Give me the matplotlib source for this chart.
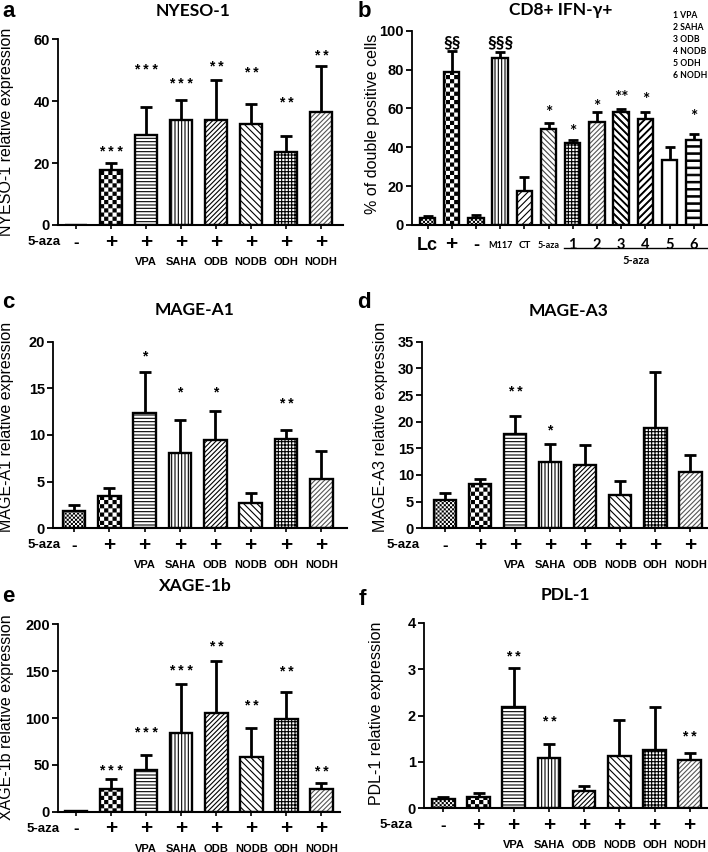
import warnings
warnings.filterwarnings("ignore")
import numpy as np
import matplotlib
matplotlib.use("Agg")
import matplotlib.pyplot as plt
from matplotlib import hatch as mhatch
from matplotlib.path import Path

# ---------------- data ----------------
treat_signs = ['-', '+', '+', '+', '+', '+', '+', '+']
hdac_names = ['', '', 'VPA', 'SAHA', 'ODB', 'NODB', 'ODH', 'NODH']

nyeso_mean = [0, 17.8, 29.2, 33.8, 33.8, 32.7, 23.5, 36.6]
nyeso_err = [0, 2.1, 8.8, 6.5, 13.1, 6.3, 5.1, 14.8]
nyeso_stars = ['', '***', '***', '***', '**', '**', '**', '**']
nyeso_star_y = [0, 25.0, 51.5, 46.9, 52.2, 50.3, 40.6, 55.8]

magea1_mean = [1.9, 3.46, 12.4, 8.1, 9.46, 2.75, 9.57, 5.3]
magea1_err = [0.6, 0.84, 4.3, 3.5, 3.1, 1.0, 0.93, 3.0]
magea1_stars = ['', '', '*', '*', '*', '', '**', '']
magea1_star_y = [0, 0, 18.9, 15.0, 15.0, 0, 13.75, 0]

magea3_mean = [5.3, 8.25, 17.7, 12.4, 11.9, 6.25, 18.9, 10.6]
magea3_err = [1.26, 0.95, 3.3, 3.35, 3.8, 2.65, 10.5, 3.15]
magea3_stars = ['', '', '**', '*', '', '', '', '']
magea3_star_y = [0, 0, 26.4, 19.1, 0, 0, 0, 0]

xage_mean = [1.0, 24.2, 44.5, 84.3, 105.0, 58.0, 99.0, 24.2]
xage_err = [0, 10.3, 16.0, 52.0, 55.8, 31.3, 28.8, 6.0]
xage_stars = ['', '***', '***', '***', '**', '**', '**', '**']
xage_star_y = [0, 48.0, 87.9, 154.0, 179.7, 116.7, 153.0, 46.3]

pdl1_mean = [0.19, 0.25, 2.19, 1.09, 0.38, 1.13, 1.26, 1.04]
pdl1_err = [0.06, 0.07, 0.84, 0.30, 0.10, 0.77, 0.93, 0.16]
pdl1_stars = ['', '', '**', '**', '', '', '', '**']
pdl1_star_y = [0, 0, 3.35, 1.95, 0, 0, 0, 1.62]

cd8_labels = ['Lc', '+', '-', 'M117', 'CT', '5-aza', '1', '2', '3', '4', '5', '6']
cd8_mean = [3.4, 78.9, 3.4, 85.8, 17.5, 49.4, 42.0, 53.2, 58.3, 54.4, 33.5, 43.7]
cd8_err = [1.2, 10.8, 1.7, 3.1, 7.4, 2.9, 1.6, 4.8, 1.4, 3.6, 6.6, 3.0]
cd8_stars = ['', '§§', '', '§§§', '', '*', '*', '*', '**', '*', '', '*']
cd8_star_y = [0, 94.8, 0, 94.8, 0, 60.0, 50.6, 63.5, 67.8, 66.9, 0, 58.3]
cd8_legend = ['1 VPA', '2 SAHA', '3 ODB', '4 NODB', '5 ODH', '6 NODH']

# ---------------- custom hatches ----------------
HATCH_LW = 0.8
plt.rcParams['hatch.linewidth'] = HATCH_LW


def _rect_poly(vertices, codes, k, pts):
    vertices[k:k + 5] = pts + [pts[0]]
    codes[k] = Path.MOVETO
    codes[k + 1:k + 4] = Path.LINETO
    codes[k + 4] = Path.CLOSEPOLY


class CheckerHatch(mhatch.HatchPatternBase):
    filled = True

    def __init__(self, hatch, density):
        n = int(hatch.count('c') * density)
        n -= n % 2
        self.n = n
        self.num_vertices = (n * n // 2) * 5

    def set_vertices_and_codes(self, vertices, codes):
        n = self.n
        s = 1.0 / n
        ins = min(HATCH_LW / 144.0, s * 0.3)
        k = 0
        for i in range(n):
            for j in range(n):
                if (i + j) % 2 == 0:
                    x0, y0 = i * s + ins, j * s + ins
                    x1, y1 = (i + 1) * s - ins, (j + 1) * s - ins
                    _rect_poly(vertices, codes, k, [(x0, y0), (x1, y0), (x1, y1), (x0, y1)])
                    k += 5


class ThickHorizontal(mhatch.HatchPatternBase):
    filled = True

    def __init__(self, hatch, density):
        self.n = hatch.count('h') * 7
        self.num_vertices = self.n * 5

    def set_vertices_and_codes(self, vertices, codes):
        n = self.n
        t = 0.007
        for i in range(n):
            y = (i + 0.5) / n
            _rect_poly(vertices, codes, i * 5,
                       [(-0.1, y - t), (1.1, y - t), (1.1, y + t), (-0.1, y + t)])


class ThickDiagonal(mhatch.HatchPatternBase):
    filled = True

    def __init__(self, hatch, density):
        self.n_up = hatch.count('d') * 7
        self.n_dn = hatch.count('b') * 7
        self.num_vertices = ((2 * self.n_up + 3 if self.n_up else 0) +
                             (2 * self.n_dn + 3 if self.n_dn else 0)) * 5

    def set_vertices_and_codes(self, vertices, codes):
        t = 0.0055
        k = 0
        for n, sign in ((self.n_up, 1), (self.n_dn, -1)):
            if not n:
                continue
            for j in range(-n - 1, n + 2):
                c = j / n
                if sign > 0:
                    pts = [(c - t - 0.2, -0.2), (c + t - 0.2, -0.2),
                           (c + t + 1.2, 1.2), (c - t + 1.2, 1.2)]
                else:
                    pts = [(c - t + 1.2, -0.2), (c + t + 1.2, -0.2),
                           (c + t - 0.2, 1.2), (c - t - 0.2, 1.2)]
                _rect_poly(vertices, codes, k, pts)
                k += 5


mhatch._hatch_types.extend([CheckerHatch, ThickHorizontal, ThickDiagonal])

DOT = 'c' * 8
CHECK = 'cccc'
# hatches for the 8-bar panels
H8 = [DOT, CHECK, '-----', '|||||', '///////', '\\\\\\\\\\', '+++++', '///////']
C8 = ['k', 'k', 'k', 'k', 'k', 'k', 'k', '#555555']
# hatches for CD8 panel
H12 = [DOT, CHECK, DOT, '|||||', '/////', '\\\\\\\\\\\\', '+++++', '///////',
       'bb', 'dd', '', 'hh']
C12 = ['k', 'k', 'k', 'k', 'k', '#444444', 'k', '#555555', 'k', 'k', 'k', 'k']

ARIAL = 'Liberation Sans'
CAL = ['Lato', 'DejaVu Sans']

W, H = 708, 852
fig = plt.figure(figsize=(W / 100, H / 100), dpi=100)


def px_rect(l, t, r, b):
    return [l / W, 1 - b / H, (r - l) / W, (b - t) / H]


def setup_axes(rect, xlim, ylim, yticks, n):
    ax = fig.add_axes(px_rect(*rect))
    ax.set_xlim(*xlim)
    ax.set_ylim(*ylim)
    ax.set_yticks(yticks)
    ax.set_xticks(range(n))
    ax.set_xticklabels([''] * n)
    for s in ['top', 'right']:
        ax.spines[s].set_visible(False)
    ax.spines['left'].set_linewidth(1.3)
    ax.spines['bottom'].set_linewidth(1.5)
    ax.tick_params(axis='y', length=4, width=1.3, pad=2, labelsize=10.5)
    ax.tick_params(axis='x', length=3, width=1.2)
    for lab in ax.get_yticklabels():
        lab.set_fontfamily(ARIAL)
        lab.set_fontweight('bold')
    ax.patch.set_visible(False)
    return ax


def draw_bars(ax, means, errs, hatches, hcolors, width, capsize):
    x = np.arange(len(means))
    bars = ax.bar(x, means, width, color='white', edgecolor=hcolors, linewidth=0, zorder=2)
    for b, h in zip(bars, hatches):
        if h:
            b.set_hatch(h)
    ax.bar(x, means, width, fill=False, edgecolor='k', linewidth=1.7, zorder=3)
    ax.errorbar(x, means, yerr=[np.zeros(len(errs)), errs], fmt='none', ecolor='k',
                elinewidth=2.0, capsize=capsize, capthick=2.0, zorder=1)


def draw_stars(ax, labels, ys, fs, family, spaced):
    for xi, (s, y) in enumerate(zip(labels, ys)):
        if s:
            txt = ' '.join(s) if spaced else s
            off = 0.58 if '*' in s else 0.35
            ax.annotate(txt, (xi, y), xytext=(0, -off * fs), textcoords='offset points',
                        ha='center', va='baseline', fontsize=fs, fontweight='bold',
                        family=family, annotation_clip=False)


def treat_rows(ax, aza_dx_px):
    for xi, (sg, nm) in enumerate(zip(treat_signs, hdac_names)):
        ax.annotate(sg, (xi, 0), xycoords=('data', 'axes fraction'),
                    xytext=(0, -17 * 0.72), textcoords='offset points', ha='center', va='center',
                    fontsize=15 if sg == '+' else 12, fontweight='bold', family=ARIAL,
                    annotation_clip=False)
        if nm:
            ax.annotate(nm, (xi, 0), xycoords=('data', 'axes fraction'),
                        xytext=(0, -37 * 0.72), textcoords='offset points', ha='center',
                        va='center', fontsize=8, fontweight='bold', family=ARIAL,
                        annotation_clip=False)
    ax.annotate('5-aza', (0, 0), xycoords=('data', 'axes fraction'),
                xytext=(aza_dx_px * 0.72, -17 * 0.72), textcoords='offset points',
                ha='center', va='center', fontsize=9.5, fontweight='bold', family=ARIAL,
                annotation_clip=False)


def ylabel(x, y, text):
    fig.text(x / W, 1 - y / H, text, rotation=90, ha='center', va='center',
             fontsize=11.5, family=ARIAL)


def title(x, y, text):
    fig.text(x / W, 1 - y / H, text, ha='center', va='center', fontsize=12.5,
             fontweight='bold', family=CAL)


def letter(x, y, text):
    fig.text(x / W, 1 - y / H, text, ha='left', va='baseline', fontsize=16,
             fontweight='bold', family=ARIAL)


# ---------------- panel a ----------------
ax = setup_axes((58.3, 39.3, 343.3, 225), (-0.51, 7.64), (0, 60), [0, 20, 40, 60], 8)
draw_bars(ax, nyeso_mean, nyeso_err, H8, C8, 0.64, 4.3)
draw_stars(ax, nyeso_stars, nyeso_star_y, 10, ARIAL, True)
treat_rows(ax, -32.5)
ylabel(7, 132, 'NYESO-1 relative expression')
title(193, 11, 'NYESO-1')
letter(2, 17, 'a')

# ---------------- panel b ----------------
ax = setup_axes((412.3, 30.7, 708, 225), (-0.63, 11.59), (0, 100), [0, 20, 40, 60, 80, 100], 12)
draw_bars(ax, cd8_mean, cd8_err, H12, C12, 0.64, 3.6)
draw_stars(ax, cd8_stars, cd8_star_y, 12.5, CAL, False)
lab_style = {'Lc': (13, ARIAL), '+': (15, ARIAL), '-': (13, ARIAL), 'M117': (6.5, CAL),
             'CT': (7, CAL), '5-aza': (6.5, CAL)}
for xi, lb in enumerate(cd8_labels):
    fs, fam = lab_style.get(lb, (10.5, CAL))
    ax.annotate(lb, (xi, 0), xycoords=('data', 'axes fraction'), xytext=(0, -20 * 0.72),
                textcoords='offset points', ha='center', va='center', fontsize=fs,
                fontweight='bold', family=fam, annotation_clip=False)
ax.plot([5.64, 11.59], [-23 / 194.3] * 2, transform=ax.get_xaxis_transform(), color='k',
        lw=1.0, clip_on=False)
ax.annotate('5-aza', (8.6, 0), xycoords=('data', 'axes fraction'), xytext=(0, -35 * 0.72),
            textcoords='offset points', ha='center', va='center', fontsize=8,
            fontweight='bold', family=CAL, annotation_clip=False)
for i, t in enumerate(cd8_legend):
    fig.text(673 / W, 1 - (15 + i * 12) / H, t, ha='left', va='center', fontsize=6.2,
             fontweight='bold', family=CAL)
ylabel(373, 124, '% of double positive cells')
title(561, 10, 'CD8+ IFN-γ+')
letter(358, 17, 'b')

# ---------------- panel c ----------------
ax = setup_axes((53.3, 341.7, 347, 528.3), (-0.59, 7.73), (0, 20), [0, 5, 10, 15, 20], 8)
draw_bars(ax, magea1_mean, magea1_err, H8, C8, 0.64, 4.3)
draw_stars(ax, magea1_stars, magea1_star_y, 10, ARIAL, True)
treat_rows(ax, -30)
ylabel(7, 427, 'MAGE-A1 relative expression')
title(195, 310, 'MAGE-A1')
letter(2, 308, 'c')

# ---------------- panel d ----------------
ax = setup_axes((422.3, 341.7, 708, 528.3), (-0.64, 7.5), (0, 35), [0, 5, 10, 15, 20, 25, 30, 35], 8)
draw_bars(ax, magea3_mean, magea3_err, H8, C8, 0.64, 4.3)
draw_stars(ax, magea3_stars, magea3_star_y, 10, ARIAL, True)
treat_rows(ax, -42)
ylabel(380, 427, 'MAGE-A3 relative expression')
title(569, 311, 'MAGE-A3')
letter(357, 308, 'd')

# ---------------- panel e ----------------
ax = setup_axes((58.3, 624.3, 340, 811.7), (-0.51, 7.53), (0, 200), [0, 50, 100, 150, 200], 8)
draw_bars(ax, xage_mean, xage_err, H8, C8, 0.64, 4.3)
draw_stars(ax, xage_stars, xage_star_y, 10, ARIAL, True)
treat_rows(ax, -33)
ylabel(7, 717, 'XAGE-1b relative expression')
title(195, 586, 'XAGE-1b')
letter(2, 602, 'e')

# ---------------- panel f ----------------
ax = setup_axes((424, 622.7, 708, 808.3), (-0.55, 7.52), (0, 4), [0, 1, 2, 3, 4], 8)
draw_bars(ax, pdl1_mean, pdl1_err, H8, C8, 0.64, 4.3)
draw_stars(ax, pdl1_stars, pdl1_star_y, 10, ARIAL, True)
treat_rows(ax, -47)
ylabel(376, 713, 'PDL-1 relative expression')
title(565, 595, 'PDL-1')
letter(359, 605, 'f')

fig.savefig('out.png', dpi=100)
